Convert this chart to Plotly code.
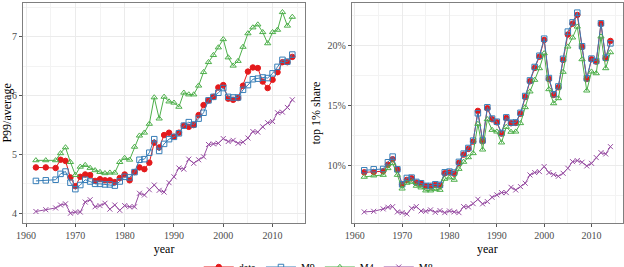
import plotly.graph_objects as go

years = [1962, 1964] + list(range(1966, 2015))

# Left panel: P99/average
p99_data = [4.78, 4.78, 4.77, 4.91, 4.89, 4.61, 4.46, 4.62, 4.66, 4.65, 4.55, 4.58, 4.56, 4.56, 4.53,
            4.60, 4.66, 4.56, 4.70, 4.78, 4.75, 4.86, 5.20, 5.12, 5.33, 5.37, 5.30, 5.37, 5.49, 5.47,
            5.50, 5.67, 5.84, 5.92, 5.98, 6.14, 6.18, 5.95, 5.93, 5.96, 6.17, 6.41, 6.48, 6.47, 6.24,
            6.13, 6.27, 6.40, 6.57, 6.57, 6.66]
p99_m9 = [4.55, 4.56, 4.57, 4.67, 4.71, 4.52, 4.41, 4.48, 4.57, 4.54, 4.50, 4.50, 4.49, 4.49, 4.47,
          4.54, 4.62, 4.61, 4.70, 4.91, 4.92, 5.03, 5.26, 5.06, 5.18, 5.26, 5.30, 5.36, 5.49, 5.55,
          5.51, 5.61, 5.71, 5.92, 5.98, 6.05, 6.13, 5.98, 5.97, 5.97, 6.10, 6.18, 6.28, 6.29, 6.31,
          6.30, 6.38, 6.49, 6.61, 6.58, 6.70]
p99_m4 = [4.90, 4.90, 4.90, 5.02, 5.12, 4.87, 4.65, 4.79, 4.82, 4.77, 4.73, 4.70, 4.68, 4.69, 4.69,
          4.87, 4.94, 4.91, 5.13, 5.32, 5.37, 5.52, 5.97, 5.61, 5.98, 5.90, 5.88, 5.81, 6.05, 6.02,
          6.02, 6.17, 6.40, 6.57, 6.69, 6.82, 6.96, 6.65, 6.51, 6.59, 6.83, 7.06, 7.16, 7.21, 7.08,
          6.89, 7.08, 7.12, 7.42, 7.19, 7.34]
p99_m8 = [4.03, 4.06, 4.09, 4.14, 4.16, 4.00, 4.02, 4.02, 4.19, 4.23, 4.11, 4.13, 4.17, 4.07, 4.14,
          4.05, 4.13, 4.11, 4.11, 4.34, 4.31, 4.40, 4.48, 4.39, 4.36, 4.52, 4.62, 4.77, 4.75, 4.92,
          4.85, 4.91, 4.96, 5.17, 5.18, 5.19, 5.27, 5.22, 5.24, 5.19, 5.21, 5.28, 5.39, 5.38, 5.47,
          5.54, 5.56, 5.71, 5.72, 5.80, 5.93]

# Right panel: top 1% share (%)
top_data = [9.44, 9.47, 9.53, 10.08, 10.53, 9.67, 8.44, 8.81, 8.94, 8.58, 8.50, 8.28, 8.25, 8.39, 8.33,
            9.36, 9.42, 9.33, 10.22, 10.92, 11.39, 12.00, 14.56, 12.03, 14.78, 13.86, 13.61, 12.67, 13.97, 13.53,
            13.56, 14.33, 15.72, 17.03, 18.14, 19.08, 20.47, 17.22, 15.89, 16.53, 18.81, 20.92, 21.83, 22.56, 19.89,
            17.22, 18.86, 18.67, 21.81, 18.94, 20.39]
top_m9 = [9.61, 9.69, 9.72, 10.28, 10.75, 9.69, 8.44, 8.97, 9.00, 8.64, 8.53, 8.31, 8.31, 8.44, 8.39,
          9.44, 9.50, 9.42, 10.31, 11.00, 11.47, 12.08, 14.36, 12.10, 14.86, 13.92, 13.66, 12.72, 14.02, 13.58,
          13.60, 14.40, 15.80, 17.10, 18.22, 19.16, 20.58, 17.30, 15.95, 16.60, 18.90, 21.17, 21.94, 22.75, 19.95,
          17.28, 18.92, 18.72, 21.86, 19.00, 20.19]
top_m4 = [9.06, 9.17, 9.22, 9.78, 10.19, 9.22, 8.08, 8.56, 8.64, 8.31, 8.17, 7.92, 7.92, 8.03, 7.97,
          8.89, 9.00, 8.81, 9.72, 10.31, 10.69, 11.03, 13.47, 11.33, 13.86, 12.97, 12.83, 11.92, 13.22, 12.81,
          12.83, 13.53, 14.86, 16.17, 17.14, 18.11, 19.36, 16.36, 15.19, 15.61, 17.81, 19.92, 20.67, 21.58, 18.86,
          16.25, 17.83, 17.69, 20.75, 18.11, 19.44]
top_m8 = [6.14, 6.19, 6.39, 6.53, 6.58, 6.14, 6.08, 5.97, 6.44, 6.58, 6.22, 6.19, 6.31, 6.11, 6.25,
          6.08, 6.22, 6.14, 6.08, 6.58, 6.56, 6.83, 7.19, 6.81, 7.00, 7.36, 7.56, 7.75, 7.75, 8.19,
          7.97, 8.25, 8.53, 9.22, 9.42, 9.50, 9.92, 9.42, 9.25, 9.11, 9.36, 9.78, 10.33, 10.42, 10.28,
          9.97, 10.19, 10.67, 11.08, 10.97, 11.58]

names = ["data", "M9", "M4", "M8"]
colors = ["#E41A1C", "#377EB8", "#4DAF4A", "#984EA3"]
symbols = ["circle", "square-open", "triangle-up-open", "x-thin-open"]
sizes = [5.5, 5.5, 5.5, 5]

fig = go.Figure()
left = [p99_data, p99_m9, p99_m4, p99_m8]
right = [[v / 100 for v in s] for s in [top_data, top_m9, top_m4, top_m8]]
for i in range(4):
    fig.add_trace(go.Scatter(x=years, y=left[i], mode="lines+markers", name=names[i],
                             line=dict(color=colors[i], width=1),
                             marker=dict(symbol=symbols[i], size=sizes[i], color=colors[i],
                                         line=dict(color=colors[i], width=1)),
                             xaxis="x", yaxis="y", legendrank=i))
for i in range(4):
    fig.add_trace(go.Scatter(x=years, y=right[i], mode="lines+markers", name=names[i],
                             line=dict(color=colors[i], width=1),
                             marker=dict(symbol=symbols[i], size=sizes[i], color=colors[i],
                                         line=dict(color=colors[i], width=1)),
                             xaxis="x2", yaxis="y2", showlegend=False))

font_family = "Liberation Serif"
tickfont = dict(family=font_family, size=10, color="#4D4D4D")
titlefont = dict(family=font_family, size=12, color="#000000")
grid = "#EBEBEB"

def xax(domain, anchor):
    return dict(domain=domain, anchor=anchor, range=[1959.4, 2016.6], tickvals=[1960, 1970, 1980, 1990, 2000, 2010],
                showgrid=True, gridcolor=grid, gridwidth=1,
                minor=dict(tickvals=[1965, 1975, 1985, 1995, 2005, 2015], showgrid=True, gridcolor="#F3F3F3", gridwidth=0.6),
                ticks="outside", ticklen=3, tickcolor="#555555", tickfont=tickfont,
                showline=True, mirror=True, linecolor="#7F7F7F", linewidth=1, zeroline=False,
                title=dict(text="year", font=titlefont, standoff=4))

fig.update_layout(
    width=624, height=267,
    margin=dict(l=0, r=0, t=0, b=0, autoexpand=False),
    plot_bgcolor="white", paper_bgcolor="white",
    xaxis=xax([0.037, 0.489], "y"),
    xaxis2=xax([0.564, 0.998], "y2"),
    yaxis=dict(domain=[0.165, 0.989], anchor="x", range=[3.835, 7.578], tickvals=[4, 5, 6, 7],
               showgrid=True, gridcolor=grid,
               minor=dict(tickvals=[4.5, 5.5, 6.5, 7.5], showgrid=True, gridcolor="#F3F3F3", gridwidth=0.6),
               ticks="outside", ticklen=3, tickcolor="#555555", tickfont=tickfont,
               showline=True, mirror=True, linecolor="#7F7F7F", linewidth=1, zeroline=False,
               title=dict(text="P99/average", font=titlefont, standoff=4)),
    yaxis2=dict(domain=[0.165, 0.989], anchor="x2", range=[0.0522, 0.2356], tickvals=[0.10, 0.15, 0.20],
                tickformat=".0%", showgrid=True, gridcolor=grid,
                minor=dict(tickvals=[0.075, 0.125, 0.175, 0.225], showgrid=True, gridcolor="#F3F3F3", gridwidth=0.6),
                ticks="outside", ticklen=3, tickcolor="#555555", tickfont=tickfont,
                showline=True, mirror=True, linecolor="#7F7F7F", linewidth=1, zeroline=False,
                title=dict(text="top 1% share", font=titlefont, standoff=4)),
    legend=dict(orientation="h", x=0.51, xanchor="center", y=0.0, yanchor="middle",
                font=dict(family=font_family, size=10, color="#000000"), bgcolor="rgba(0,0,0,0)",
                itemwidth=30, tracegroupgap=0),
    showlegend=True,
)

fig.write_html("out.html")
